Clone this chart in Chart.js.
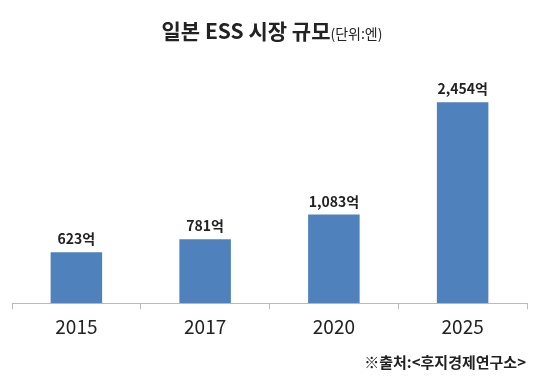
<!DOCTYPE html>
<html>
<head>
<meta charset="utf-8">
<script src="https://cdn.jsdelivr.net/npm/chart.js@4"></script>
<style>
  html, body { margin: 0; padding: 0; background: #fff; }
  #wrap { width: 540px; height: 378px; }
</style>
</head>
<body>
<div id="wrap"><canvas id="chart" width="540" height="378"></canvas></div>
<script>
const years = ['2015', '2017', '2020', '2025'];
const marketSize = [623, 781, 1083, 2454];
const valueLabels = ['623억', '781억', '1,083억', '2,454억'];
const titleMain = '일본 ESS 시장 규모';
const titleUnit = '(단위:엔)';
const sourceText = '※출처:<후지경제연구소>';

const FONT = '"Noto Sans CJK KR", "Noto Sans", sans-serif';

// title, value labels and source note
const textPlugin = {
    id: 'texts',
    afterDatasetsDraw: (chart) => {
        const { ctx } = chart;
        ctx.save();
        ctx.fillStyle = '#222';
        ctx.textBaseline = 'alphabetic';

        ctx.font = 'bold 21px ' + FONT;
        const w1 = ctx.measureText(titleMain).width;
        ctx.font = '14px ' + FONT;
        const w2 = ctx.measureText(titleUnit).width;
        const start = 272 - (w1 + w2) / 2;
        ctx.font = 'bold 21px ' + FONT;
        ctx.textAlign = 'left';
        ctx.fillText(titleMain, start, 39);
        ctx.font = '14px ' + FONT;
        ctx.fillText(titleUnit, start + w1, 39);

        ctx.font = 'bold 14px ' + FONT;
        ctx.textAlign = 'center';
        chart.getDatasetMeta(0).data.forEach((bar, i) => {
            ctx.fillText(valueLabels[i], bar.x, bar.y - 8);
        });

        ctx.font = 'bold 15px ' + FONT;
        ctx.textAlign = 'right';
        ctx.fillText(sourceText, 526, 368);
        ctx.restore();
    }
};

new Chart(document.getElementById('chart'), {
    type: 'bar',
    data: {
        labels: years,
        datasets: [{
            data: marketSize,
            backgroundColor: '#4f81bd',
            borderWidth: 0,
            barPercentage: 0.4,
            categoryPercentage: 1.0
        }]
    },
    options: {
        responsive: false,
        animation: false,
        layout: { padding: { top: 60, left: 12, right: 13, bottom: 34 } },
        plugins: {
            legend: { display: false },
            tooltip: { enabled: false }
        },
        scales: {
            y: { display: false, min: 0, max: 2970 },
            x: {
                grid: {
                    offset: true,
                    drawOnChartArea: false,
                    tickLength: 6,
                    color: '#bbbbbb'
                },
                border: { color: '#bbbbbb' },
                ticks: {
                    color: '#222',
                    padding: 6,
                    font: { family: FONT, size: 19 }
                }
            }
        }
    },
    plugins: [textPlugin]
});
</script>
</body>
</html>
